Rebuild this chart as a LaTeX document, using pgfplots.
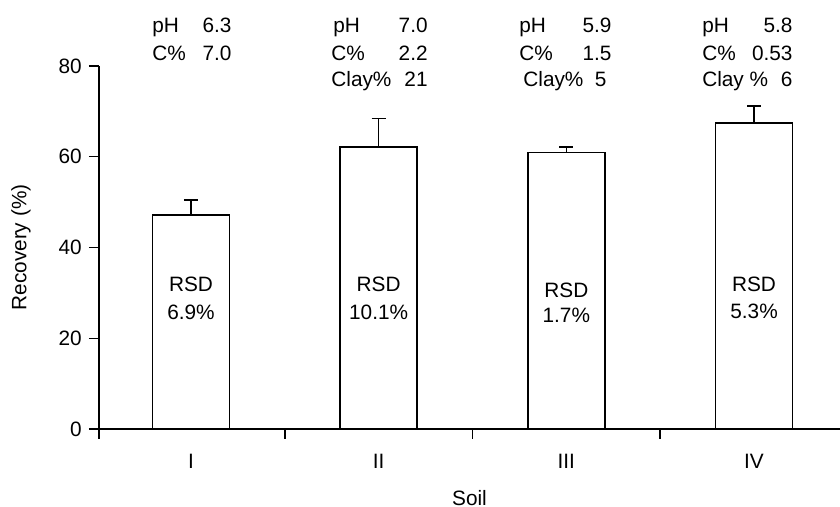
\documentclass[border=0pt]{standalone}
\usepackage{fontspec}
\setmainfont{Liberation Sans}
\usepackage{pgfplots}
\pgfplotsset{compat=1.18}
\newcommand{\ff}{\fontsize{10.4}{12.5}\selectfont}
\begin{document}
\ff
\begin{tikzpicture}[every node/.append style={font=\ff}]
\begin{axis}[
  name=ax,
  scale only axis,
  width=370.5pt, height=181.5pt,
  xmin=-0.49, xmax=3.458,
  ymin=0, ymax=80,
  clip=false,
  axis x line*=bottom, axis y line*=left,
  axis line style={-, line width=0.7pt},
  tick style={line width=0.7pt, black},
  tick align=outside,
  ytick={0,20,40,60,80},
  major tick length=5pt,
  xtick={-0.49,0.5,1.5,2.5},
  xticklabels={},
  extra x ticks={0,1,2,3},
  extra x tick labels={I,II,III,IV},
  extra x tick style={major tick length=0pt, tick label style={yshift=-9pt}},
  /pgf/number format/assume math mode=true,
  tick label style={font=\ff},
  label style={font=\ff},
  xlabel={Soil},
  ylabel={Recovery (\%)},
  xlabel style={at={(axis description cs:0.5,-0.190)}, anchor=center},
  ylabel style={at={(axis description cs:-0.1053,0.5)}, anchor=center},
  ybar, bar width=0.41,
]
\addplot[draw=black, fill=white, line width=0.8pt,
  error bars/.cd, y dir=plus, y explicit,
  error bar style={line width=0.8pt, black},
  error mark options={rotate=90, black, line width=0.8pt, mark size=3.5pt}]
  coordinates {
  (0,47.2) +- (0,3.3)
  (1,62.2) +- (0,6.2)
  (2,60.9) +- (0,1.3)
  (3,67.5) +- (0,3.7)
  };
% soil property annotations
\node[anchor=base west, inner sep=0] at (axis cs:-0.208,87.4) {pH};
\node[anchor=base east, inner sep=0] at (axis cs:0.218,87.4) {6.3};
\node[anchor=base west, inner sep=0] at (axis cs:-0.208,81.2) {C\%};
\node[anchor=base east, inner sep=0] at (axis cs:0.218,81.2) {7.0};

\node[anchor=base west, inner sep=0] at (axis cs:0.756,87.4) {pH};
\node[anchor=base east, inner sep=0] at (axis cs:1.263,87.4) {7.0};
\node[anchor=base west, inner sep=0] at (axis cs:0.746,81.2) {C\%};
\node[anchor=base east, inner sep=0] at (axis cs:1.263,81.2) {2.2};
\node[anchor=base west, inner sep=0] at (axis cs:0.746,75.5) {Clay\%};
\node[anchor=base east, inner sep=0] at (axis cs:1.263,75.5) {21};

\node[anchor=base west, inner sep=0] at (axis cs:1.747,87.4) {pH};
\node[anchor=base east, inner sep=0] at (axis cs:2.243,87.4) {5.9};
\node[anchor=base west, inner sep=0] at (axis cs:1.747,81.2) {C\%};
\node[anchor=base east, inner sep=0] at (axis cs:2.243,81.2) {1.5};
\node[anchor=base west, inner sep=0] at (axis cs:1.769,75.5) {Clay\%};
\node[anchor=base east, inner sep=0] at (axis cs:2.216,75.5) {5};

\node[anchor=base west, inner sep=0] at (axis cs:2.722,87.4) {pH};
\node[anchor=base east, inner sep=0] at (axis cs:3.207,87.4) {5.8};
\node[anchor=base west, inner sep=0] at (axis cs:2.722,81.2) {C\%};
\node[anchor=base east, inner sep=0] at (axis cs:3.207,81.2) {0.53};
\node[anchor=base west, inner sep=0] at (axis cs:2.722,75.5) {Clay \%};
\node[anchor=base east, inner sep=0] at (axis cs:3.207,75.5) {6};
% RSD labels
\node[anchor=base, inner sep=0] at (axis cs:0,30.3) {RSD};
\node[anchor=base, inner sep=0] at (axis cs:0,24.2) {6.9\%};
\node[anchor=base, inner sep=0] at (axis cs:1,30.3) {RSD};
\node[anchor=base, inner sep=0] at (axis cs:1,24.2) {10.1\%};
\node[anchor=base, inner sep=0] at (axis cs:2,28.9) {RSD};
\node[anchor=base, inner sep=0] at (axis cs:2,23.5) {1.7\%};
\node[anchor=base, inner sep=0] at (axis cs:3,30.3) {RSD};
\node[anchor=base, inner sep=0] at (axis cs:3,24.4) {5.3\%};
\end{axis}
\pgfresetboundingbox
\path[use as bounding box] ([xshift=-49.5pt,yshift=-39pt]ax.south west) rectangle ([yshift=33pt]ax.north east);
\end{tikzpicture}
\end{document}
